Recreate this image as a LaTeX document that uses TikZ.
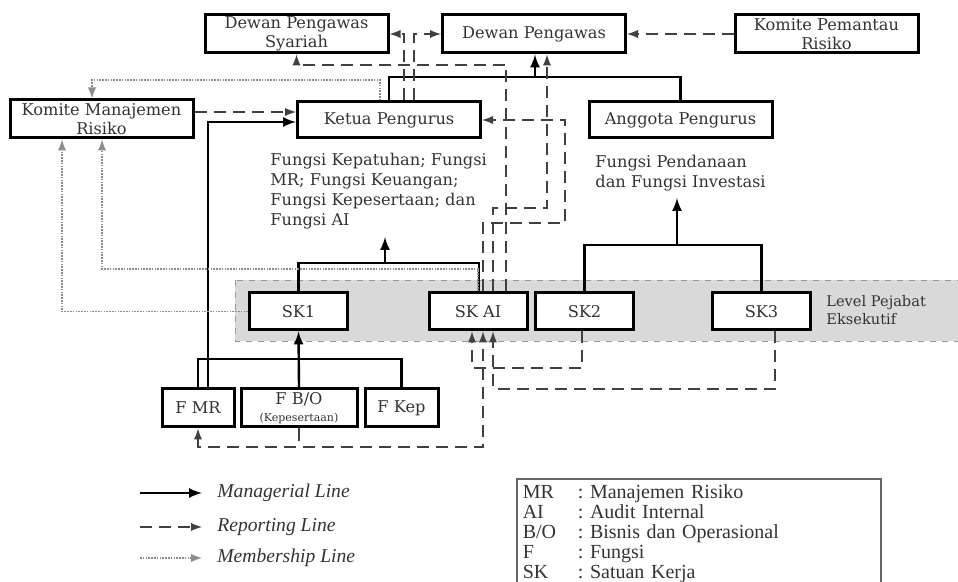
\documentclass[tikz,border=0pt]{standalone}
\usepackage{fontspec}
\setmainfont{DejaVu Serif}
\newfontfamily\legfont{Liberation Serif}
\usepackage{tikz}

\begin{document}
\begin{tikzpicture}[x=0.5pt,y=-0.5pt,>=latex,
    box/.style={draw,fill=white,line width=1.5pt,inner sep=0pt,align=center,text=black!80,font=\fontsize{8.1}{9.5}\selectfont},
    bigbox/.style={box,minimum width=91.5pt,minimum height=19pt},
    skbox/.style={box,minimum width=49pt,minimum height=18.5pt},
    fbox/.style={box,minimum height=19pt},
    note/.style={align=left,inner sep=0pt,text=black!80,font=\fontsize{8.1}{10}\selectfont},
    mgr/.style={line width=1.2pt},
    rep/.style={draw=black!75,line width=0.9pt,dash pattern=on 6pt off 3.5pt},
    mem/.style={draw=black!45,line width=0.9pt,dash pattern=on 0.8pt off 0.6pt},
    leg/.style={inner sep=0pt,text=black!80,font=\legfont\fontsize{9.8}{10}\selectfont\itshape}]
    \useasboundingbox (0,0) rectangle (958,582);
    \draw [black!40,dashed,fill=black!15] (235,280) rectangle (964,341);
    \node[bigbox] (dps) at (296.5,34) {Dewan Pengawas\\Syariah};
    \node[bigbox] (dp) at (534,34) {Dewan Pengawas};
    \node[bigbox] (kpr) at (826.5,34) {Komite Pemantau\\Risiko};
    \node[bigbox] (kmr) at (101.5,119) {Komite Manajemen\\Risiko};
    \node[bigbox,minimum height=18pt] (ketua) at (389,120) {Ketua Pengurus};
    \node[bigbox,minimum height=18pt] (anggota) at (680.5,120) {Anggota Pengurus};
    \node[note,anchor=north west] (tket) at (270,153) {Fungsi Kepatuhan; Fungsi\\MR; Fungsi Keuangan;\\Fungsi Kepesertaan; dan\\Fungsi AI};
    \node[note,anchor=north west] (tang) at (595,155) {Fungsi Pendanaan\\dan Fungsi Investasi};
    \node[note,anchor=west,font=\fontsize{7.3}{9}\selectfont] (tlev) at (826,310) {Level Pejabat\\Eksekutif};
    \node[skbox] (sk1) at (298.5,311.5) {SK1};
    \node[skbox] (skai) at (478,311.5) {SK AI};
    \node[skbox] (sk2) at (584.5,311.5) {SK2};
    \node[skbox] (sk3) at (761.5,311.5) {SK3};
    \node[fbox,minimum width=36pt] (fmr) at (198,408) {F MR};
    \node[fbox,minimum width=58pt] (fbo) at (299,408) {F B/O\\[-1pt]{\fontsize{5.5}{6}\selectfont(Kepesertaan)}};
    \node[fbox,minimum width=36.5pt] (fkep) at (401.5,408) {F Kep};
    \coordinate (jtop) at (535,77);
    \coordinate (jsk) at (385,263);
    \coordinate (jsk2) at (677,245);
    \coordinate (jf) at (299,359);
    \coordinate (tipket) at (385,237);
    \coordinate (tipang) at (677,198);
    \draw [mgr] (ketua.north) |- (jtop) -| (anggota.north);
    \draw [mgr,->] (jtop) to (dp.south -| jtop);
    \draw [mgr,->] (208,0 |- fmr.north) |- (ketua.west |- 0,122);
    \draw [mgr] (sk1.north) |- (jsk) -| (479,0 |- skai.north);
    \draw [mgr,->] (jsk) to (tipket);
    \draw [mgr] (sk2.north) |- (jsk2) -| (sk3.north);
    \draw [mgr,->] (jsk2) to (tipang);
    \draw [mgr] (fmr.north) |- (jf) -| (fkep.north);
    \draw [mgr,->] (fbo.north) to (sk1.south);
    \draw [rep,->] (kpr) to (dp);
    \draw [rep,->] (kmr.east |- 0,112) to (ketua.west |- 0,112);
    \draw [rep,->] (404,0 |- ketua.north) |- (dps.east);
    \draw [rep,->] (414,0 |- ketua.north) |- (dp.west);
    \draw [rep,->] (506,0 |- skai.north) -- (506,65) -| (dps.south);
    \draw [rep,->] (493,0 |- skai.north) -- (493,208) -| (547,0 |- dp.south);
    \draw [rep,->] (483,0 |- skai.north) -- (483,223) -| (565,120) -- (ketua.east);
    \draw [rep,->] (582,0 |- sk2.south) -- (582,368) -| (472,0 |- skai.south);
    \draw [rep,->] (775,0 |- sk3.south) -- (775,389) -| (493,0 |- skai.south);
    \draw [rep,<->] (fmr.south) -- (198,447) -| (483,0 |- skai.south);
    \draw [rep] (fbo.south) -- (299,447);
    \draw [mem,->] (380,0 |- ketua.north) -- (380,80) -| (92,0 |- kmr.north);
    \draw [mem,->] (sk1.west) -| (62,0 |- kmr.south);
    \draw [mem,->] (478,0 |- skai.north) -- (478,269) -| (102,0 |- kmr.south);
    \coordinate (l1) at (140,493);
    \coordinate (l2) at (140,527);
    \coordinate (l3) at (140,558);
    \node[leg,anchor=west] (lmgr) at (217,493) {Managerial Line};
    \node[leg,anchor=west] (lrep) at (217,527) {Reporting Line};
    \node[leg,anchor=west] (lmem) at (217,558) {Membership Line};
    \draw [mgr,->] (l1) to (202,493);
    \draw [rep,->] (l2) to (202,527);
    \draw [mem,->] (l3) to (202,558);
    \node[draw=black!60,line width=0.8pt,anchor=north west,inner xsep=3pt,inner ysep=3pt,text width=176pt,align=left,text=black!80,font=\legfont\fontsize{10}{10}\selectfont] (abbr) at (516,478) {%
      \begin{tabular}{@{}p{27.5pt}@{}l@{}}
        MR & :\ Manajemen Risiko\\
        AI & :\ Audit Internal\\
        B/O & :\ Bisnis dan Operasional\\
        F & :\ Fungsi\\
        SK & :\ Satuan Kerja
      \end{tabular}};
\end{tikzpicture}
\end{document}
